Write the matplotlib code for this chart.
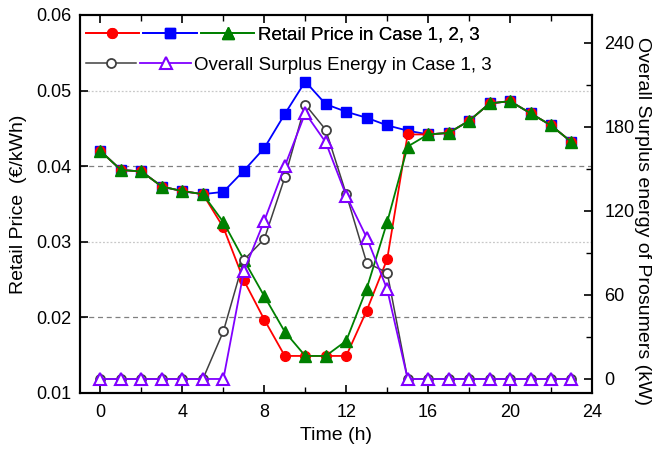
import matplotlib
matplotlib.use("Agg")
import matplotlib.pyplot as plt
from matplotlib.legend_handler import HandlerTuple
from matplotlib.ticker import MultipleLocator

hours = list(range(24))
price_case1 = [0.0420, 0.0395, 0.0393, 0.0373, 0.0367, 0.0363, 0.0319, 0.0249,
               0.0197, 0.0149, 0.0149, 0.0149, 0.0149, 0.0209, 0.0277, 0.0442,
               0.0442, 0.0444, 0.0460, 0.0483, 0.0486, 0.0470, 0.0454, 0.0432]
price_case2 = [0.0420, 0.0395, 0.0393, 0.0373, 0.0367, 0.0363, 0.0366, 0.0394,
               0.0424, 0.0469, 0.0512, 0.0482, 0.0472, 0.0464, 0.0454, 0.0447,
               0.0442, 0.0444, 0.0460, 0.0483, 0.0486, 0.0470, 0.0454, 0.0432]
price_case3 = [0.0420, 0.0395, 0.0393, 0.0373, 0.0367, 0.0363, 0.0326, 0.0276,
               0.0228, 0.0181, 0.0149, 0.0149, 0.0169, 0.0238, 0.0326, 0.0426,
               0.0442, 0.0444, 0.0460, 0.0483, 0.0486, 0.0470, 0.0454, 0.0432]
surplus_case1 = [0, 0, 0, 0, 0, 0, 34, 85, 100, 144, 196, 178, 132, 83, 76, 0,
                 0, 0, 0, 0, 0, 0, 0, 0]
surplus_case3 = [0, 0, 0, 0, 0, 0, 0, 77, 113, 152, 190, 169, 131, 101, 64, 0,
                 0, 0, 0, 0, 0, 0, 0, 0]

legend_labels = ["Retail Price in Case 1, 2, 3", "Overall Surplus Energy in Case 1, 3"]

plt.rcParams['font.family'] = ['Liberation Sans', 'DejaVu Sans']
fs = 13

fig = plt.figure(figsize=(6.57, 4.54), dpi=100)
ax = fig.add_axes([0.1218, 0.1344, 0.901 - 0.1218, 0.967 - 0.1344])
ax2 = ax.twinx()

# grid lines
for g in [0.02, 0.04]:
    ax.axhline(g, color='#808080', lw=0.9, ls=(0, (4, 3)), zorder=0)
for g in [0.03, 0.05]:
    ax.axhline(g, color='#c8c8c8', lw=0.9, ls=(0, (1.5, 1.5)), zorder=0)

lb, = ax.plot(hours, price_case2, color='#0000FF', marker='s', ms=6.5, lw=1.3, zorder=3)
lr, = ax.plot(hours, price_case1, color='#FF0000', marker='o', ms=7, lw=1.3, zorder=4)
lg, = ax.plot(hours, price_case3, color='#008000', marker='^', ms=8.5, lw=1.3, zorder=5)

lk, = ax2.plot(hours, surplus_case1, color='#404040', marker='o', ms=6.5, lw=1.1,
               markerfacecolor='white', markeredgewidth=1.3, zorder=3)
lp, = ax2.plot(hours, surplus_case3, color='#8000FF', marker='^', ms=8.5, lw=1.3,
               markerfacecolor='white', markeredgewidth=1.5, zorder=4)

ax.set_xlim(-1, 24)
ax.set_ylim(0.01, 0.06)
ax2.set_ylim(-10, 260)

ax.set_xticks(range(0, 25, 4))
ax.xaxis.set_minor_locator(MultipleLocator(2))
ax.set_yticks([0.01, 0.02, 0.03, 0.04, 0.05, 0.06])
ax.set_yticklabels(['0.01', '0.02', '0.03', '0.04', '0.05', '0.06'])
ax2.set_yticks([0, 60, 120, 180, 240])
ax2.yaxis.set_minor_locator(MultipleLocator(30))

ax.tick_params(axis='both', which='both', direction='in', labelsize=fs, top=True)
ax.tick_params(axis='y', which='both', right=False, pad=6)
ax.tick_params(axis='x', which='both', pad=8)
ax.tick_params(which='major', length=6, width=1.2)
ax.tick_params(which='minor', length=4, width=1.0)
ax2.tick_params(axis='y', which='both', direction='in', labelsize=fs, pad=9)
ax2.tick_params(which='major', length=6, width=1.2)
ax2.tick_params(which='minor', length=4, width=1.0)

for a in (ax, ax2):
    for s in a.spines.values():
        s.set_linewidth(1.5)

ax.set_xlabel('Time (h)', fontsize=fs + 1, labelpad=4)
ax.set_ylabel('Retail Price  (€/kWh)', fontsize=fs + 1, labelpad=7)
ax2.set_ylabel('Overall Surplus energy of Prosumers (kW)', fontsize=fs + 1,
               rotation=270, va='center', ha='center')
ax2.yaxis.set_label_coords(1.098, 0.455)

hm = {tuple: HandlerTuple(ndivide=None, pad=0.25)}
leg1 = ax.legend([(lr, lb, lg)], [legend_labels[0]], handler_map=hm,
                 loc='upper left', bbox_to_anchor=(0.0, 0.985), frameon=False,
                 handlelength=9.0, handletextpad=0.2, fontsize=fs + 0.5,
                 borderaxespad=0.1, borderpad=0.2)
ax.add_artist(leg1)
leg2 = ax2.legend([(lk, lp)], [legend_labels[1]], handler_map=hm,
                  loc='upper left', bbox_to_anchor=(0.0, 0.905), frameon=False,
                  handlelength=5.6, handletextpad=0.2, fontsize=fs + 0.5,
                  borderaxespad=0.1, borderpad=0.2)

fig.savefig('out.png', dpi=100)
